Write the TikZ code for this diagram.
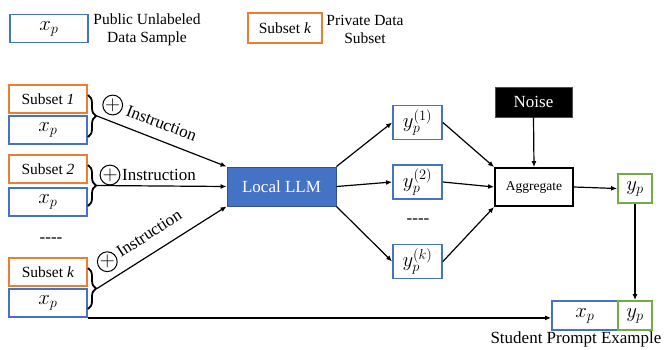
\documentclass[tikz,border=0pt]{standalone}
\usepackage{fontspec}
\setmainfont{Liberation Serif}
\usetikzlibrary{arrows.meta,decorations.pathreplacing}
\definecolor{pubblue}{RGB}{68,114,196}
\definecolor{privorange}{RGB}{237,125,49}
\definecolor{labgreen}{RGB}{112,173,71}
\definecolor{llmedge}{RGB}{47,82,143}

\begin{document}
\begin{tikzpicture}[x=1pt,y=-1pt]
\tikzstyle{every node}+=[inner sep=0pt]
\tikzstyle{pubbox}=[draw=pubblue,line width=1.8pt,minimum width=78pt,minimum height=28pt,font=\fontsize{21}{24}\selectfont]
\tikzstyle{privbox}=[draw=privorange,line width=1.8pt,minimum width=78pt,minimum height=28pt,font=\fontsize{15.5}{18}\selectfont]
\tikzstyle{outbox}=[draw=pubblue,line width=1.8pt,minimum width=49pt,minimum height=34pt,font=\fontsize{20}{24}\selectfont]
\tikzstyle{labbox}=[draw=labgreen,line width=1.8pt,minimum width=34pt,minimum height=29pt,font=\fontsize{21}{24}\selectfont]
\tikzstyle{plusc}=[circle,draw,line width=1pt,minimum size=19pt,font=\fontsize{20}{20}\selectfont]
\tikzstyle{arr}=[line width=1.2pt,-{Latex[length=6pt,width=5pt]}]
\tikzstyle{brc}=[line width=1.8pt,decorate,decoration={brace,amplitude=8pt}]
\tikzstyle{txt}=[font=\fontsize{17}{20}\selectfont]
\useasboundingbox (0,0) rectangle (669,349);
% legend
\node [pubbox] (legpub) at (49,28.5) {$x_p$};
\node [align=center,font=\fontsize{15.5}{18}\selectfont] (legpubtxt) at (147,30) {Public Unlabeled\\Data Sample};
\node [privbox,minimum width=74pt,minimum height=30pt] (legpriv) at (285,28) {Subset \textit{k}};
\node [align=center,font=\fontsize{15.5}{18}\selectfont] (legprivtxt) at (365,29) {Private Data\\Subset};
% left column
\node [privbox] (s1) at (48,99) {Subset \textit{1}};
\node [pubbox] (x1) at (48,130) {$x_p$};
\node [privbox] (s2) at (48,169) {Subset \textit{2}};
\node [pubbox] (x2) at (48,202) {$x_p$};
\node [txt] (ldots) at (51,240) {{-}{-}{-}{-}};
\node [privbox] (sk) at (48,272) {Subset \textit{k}};
\node [pubbox] (xk) at (48,303) {$x_p$};
\draw [brc] (88,95) -- (88,137) coordinate [midway,xshift=9pt] (b1);
\draw [brc] (88,165) -- (88,206) coordinate [midway,xshift=9pt] (b2);
\draw [brc] (88,268) -- (88,309) coordinate [midway,xshift=9pt] (bk);
% model
\node [txt,fill=pubblue,draw=llmedge,line width=0.8pt,minimum width=109pt,minimum height=39pt,text=white] (llm) at (281.5,186.5) {Local LLM};
\draw [arr] (b1) -- (llm.north west);
\draw [arr] (b2) -- (llm.west);
\draw [arr] (bk) -- (llm.south west);
\node [plusc] (plus1) at (112.7,105) {$+$};
\node [plusc] (plus2) at (110,175) {$+$};
\node [plusc] (plusk) at (107.3,261.7) {$+$};
\node [txt,anchor=base west,rotate=-21] (ins1) at (125,115) {Instruction};
\node [txt,anchor=base west] (ins2) at (122,180) {Instruction};
\node [txt,anchor=base west,rotate=33] (insk) at (121,258) {Instruction};
% outputs
\node [outbox] (y1) at (417.5,122.5) {$y_p^{(1)}$};
\node [outbox] (y2) at (417.5,182) {$y_p^{(2)}$};
\node [txt] (ydots) at (418,221) {{-}{-}{-}{-}};
\node [outbox] (yk) at (417.5,261.5) {$y_p^{(k)}$};
\draw [arr] (llm.north east) -- (y1.west);
\draw [arr] (llm.east) -- (y2.west);
\draw [arr] (llm.south east) -- (yk.west);
% aggregation
\node [txt,fill=black,draw=black!70,line width=0.8pt,minimum width=77pt,minimum height=30pt,text=white] (noise) at (533.5,102) {Noise};
\node [draw,line width=1.8pt,minimum width=78pt,minimum height=38pt,font=\fontsize{13.5}{16}\selectfont] (agg) at (534,187) {Aggregate};
\draw [arr] (y1.east) -- (agg.north west);
\draw [arr] (y2.east) -- (agg.west);
\draw [arr] (yk.east) -- (agg.south west);
\draw [arr] (noise.south) -- (agg.north);
\node [labbox] (yp) at (635,188.5) {$y_p$};
\draw [arr] (agg.east) -- (yp.west);
% student prompt
\node [pubbox,minimum width=66pt,minimum height=29pt] (sx) at (585,315.5) {$x_p$};
\node [labbox] (sy) at (635,315.5) {$y_p$};
\draw [arr] (yp.south) -- (sy.north);
\draw [arr] (xk.south east) -- (xk.south east -| sx.west);
\node [txt,anchor=base] (stxt) at (576,343) {Student Prompt Example};
\end{tikzpicture}
\end{document}
